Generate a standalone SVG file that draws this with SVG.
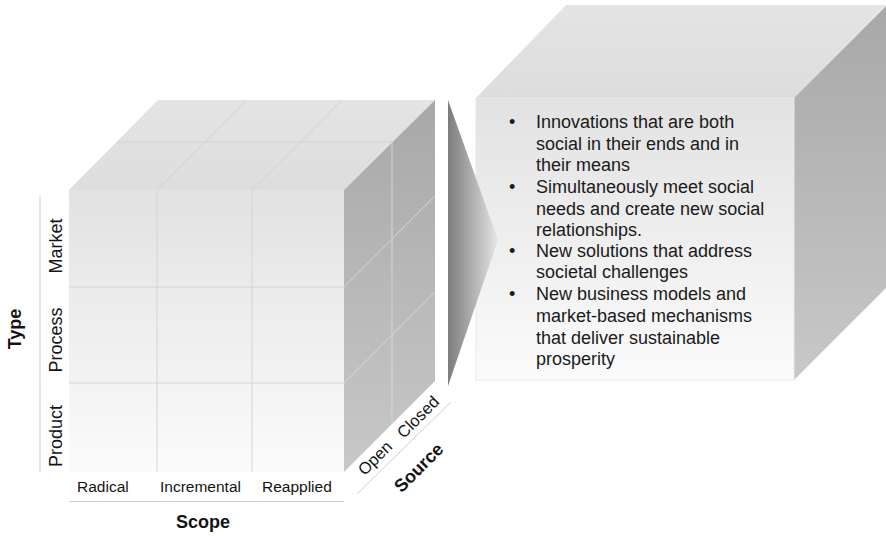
<svg xmlns="http://www.w3.org/2000/svg" width="886" height="536" viewBox="0 0 886 536">
  <style>
    .lbl { font-family: "Liberation Sans", Arial, sans-serif; fill: #141414; }
    .axis { font-size: 18px; }
    .col { font-size: 15.5px; }
    .ttl { font-size: 18px; font-weight: bold; }
    .src { font-size: 16.5px; }
    .body { font-family: "Liberation Sans", Arial, sans-serif; font-size: 18px; fill: #1a1a1a; }
    .grid-front { stroke: #d4d4d4; stroke-width: 1; fill: none; }
    .grid-top { stroke: #d2d2d2; stroke-width: 1; fill: none; }
    .grid-side { stroke: #d6d6d6; stroke-width: 1; fill: none; }
    .rule { stroke: #cfcfcf; stroke-width: 1; fill: none; }
  </style>
  <defs>
    <linearGradient id="frontFill" x1="0" y1="0" x2="0" y2="1">
      <stop offset="0" stop-color="#e2e2e2"/>
      <stop offset="1" stop-color="#fbfbfb"/>
    </linearGradient>
    <linearGradient id="topFill" x1="0" y1="0" x2="0" y2="1">
      <stop offset="0" stop-color="#e4e4e4"/>
      <stop offset="1" stop-color="#dddddd"/>
    </linearGradient>
    <linearGradient id="sideFill" x1="0" y1="0" x2="0" y2="1">
      <stop offset="0" stop-color="#a8a8a8"/>
      <stop offset="1" stop-color="#c8c8c8"/>
    </linearGradient>
    <linearGradient id="wedgeFill" x1="0" y1="0" x2="1" y2="0">
      <stop offset="0" stop-color="#7c7c7c"/>
      <stop offset="1" stop-color="#e6e6e6"/>
    </linearGradient>
  </defs>

  <!-- Left cube: Type x Scope x Source -->
  <g id="cube-left">
    <polygon points="69,190 158,100 435,100 344,190" fill="url(#topFill)"/>
    <polygon points="344,190 435,100 435,381 344,472" fill="url(#sideFill)"/>
    <rect x="69" y="190" width="275" height="282" fill="url(#frontFill)"/>
    <!-- front grid -->
    <path class="grid-front" d="M157,190V472 M252,190V472 M69,287H344 M69,383H344"/>
    <!-- top grid -->
    <path class="grid-top" d="M117,142H392 M157,190L247,100 M252,190L342,100"/>
    <!-- side grid -->
    <path class="grid-side" d="M392,142V424 M344,287L435,196 M344,383L435,292"/>
  </g>

  <!-- Axis rules -->
  <g id="connectors">
    <line class="rule" x1="40" y1="195" x2="40" y2="472"/>
    <line class="rule" x1="69" y1="501.5" x2="344" y2="501.5"/>
    <line class="rule" x1="357" y1="494" x2="451" y2="402"/>
  </g>

  <!-- Type axis -->
  <g id="axis-type">
    <text class="lbl ttl" transform="translate(21,329) rotate(-90)" text-anchor="middle">Type</text>
    <text class="lbl axis" transform="translate(62,246) rotate(-90)" text-anchor="middle">Market</text>
    <text class="lbl axis" transform="translate(62,340) rotate(-90)" text-anchor="middle">Process</text>
    <text class="lbl axis" transform="translate(62,436) rotate(-90)" text-anchor="middle">Product</text>
  </g>

  <!-- Scope axis -->
  <g id="axis-scope">
    <text class="lbl col" x="77" y="492">Radical</text>
    <text class="lbl col" x="160" y="492">Incremental</text>
    <text class="lbl col" x="262" y="492">Reapplied</text>
    <text class="lbl ttl" x="203" y="528" text-anchor="middle">Scope</text>
  </g>

  <!-- Source axis -->
  <g id="axis-source">
    <text class="lbl src" transform="translate(379,462) rotate(-45)" text-anchor="middle">Open</text>
    <text class="lbl src" transform="translate(422,421) rotate(-45)" text-anchor="middle">Closed</text>
    <text class="lbl ttl" transform="translate(423,472) rotate(-45)" text-anchor="middle">Source</text>
  </g>

  <!-- Right cube: definition box -->
  <g id="cube-right">
    <polygon points="476,98 566,5 886,5 794,98" fill="url(#topFill)"/>
    <polygon points="794,98 886,6 886,288 794,380" fill="url(#sideFill)"/>
    <rect x="476" y="98" width="318" height="282" fill="url(#frontFill)" stroke="#e8e8e8" stroke-width="1"/>
    <g class="body">
      <text x="509" y="128">•</text>
      <text x="536" y="128">Innovations that are both</text>
      <text x="536" y="149.5">social in their ends and in</text>
      <text x="536" y="171">their means</text>
      <text x="509" y="193">•</text>
      <text x="536" y="193">Simultaneously meet social</text>
      <text x="536" y="214.5">needs and create new social</text>
      <text x="536" y="236">relationships.</text>
      <text x="509" y="257">•</text>
      <text x="536" y="257">New solutions that address</text>
      <text x="536" y="278">societal challenges</text>
      <text x="509" y="300">•</text>
      <text x="536" y="300">New business models and</text>
      <text x="536" y="322">market-based mechanisms</text>
      <text x="536" y="344">that deliver sustainable</text>
      <text x="536" y="365">prosperity</text>
    </g>
  </g>

  <!-- Expansion wedge pointing into the definition box -->
  <g id="wedge">
    <polygon points="448,100 498,240 448,386" fill="url(#wedgeFill)"/>
  </g>
</svg>
